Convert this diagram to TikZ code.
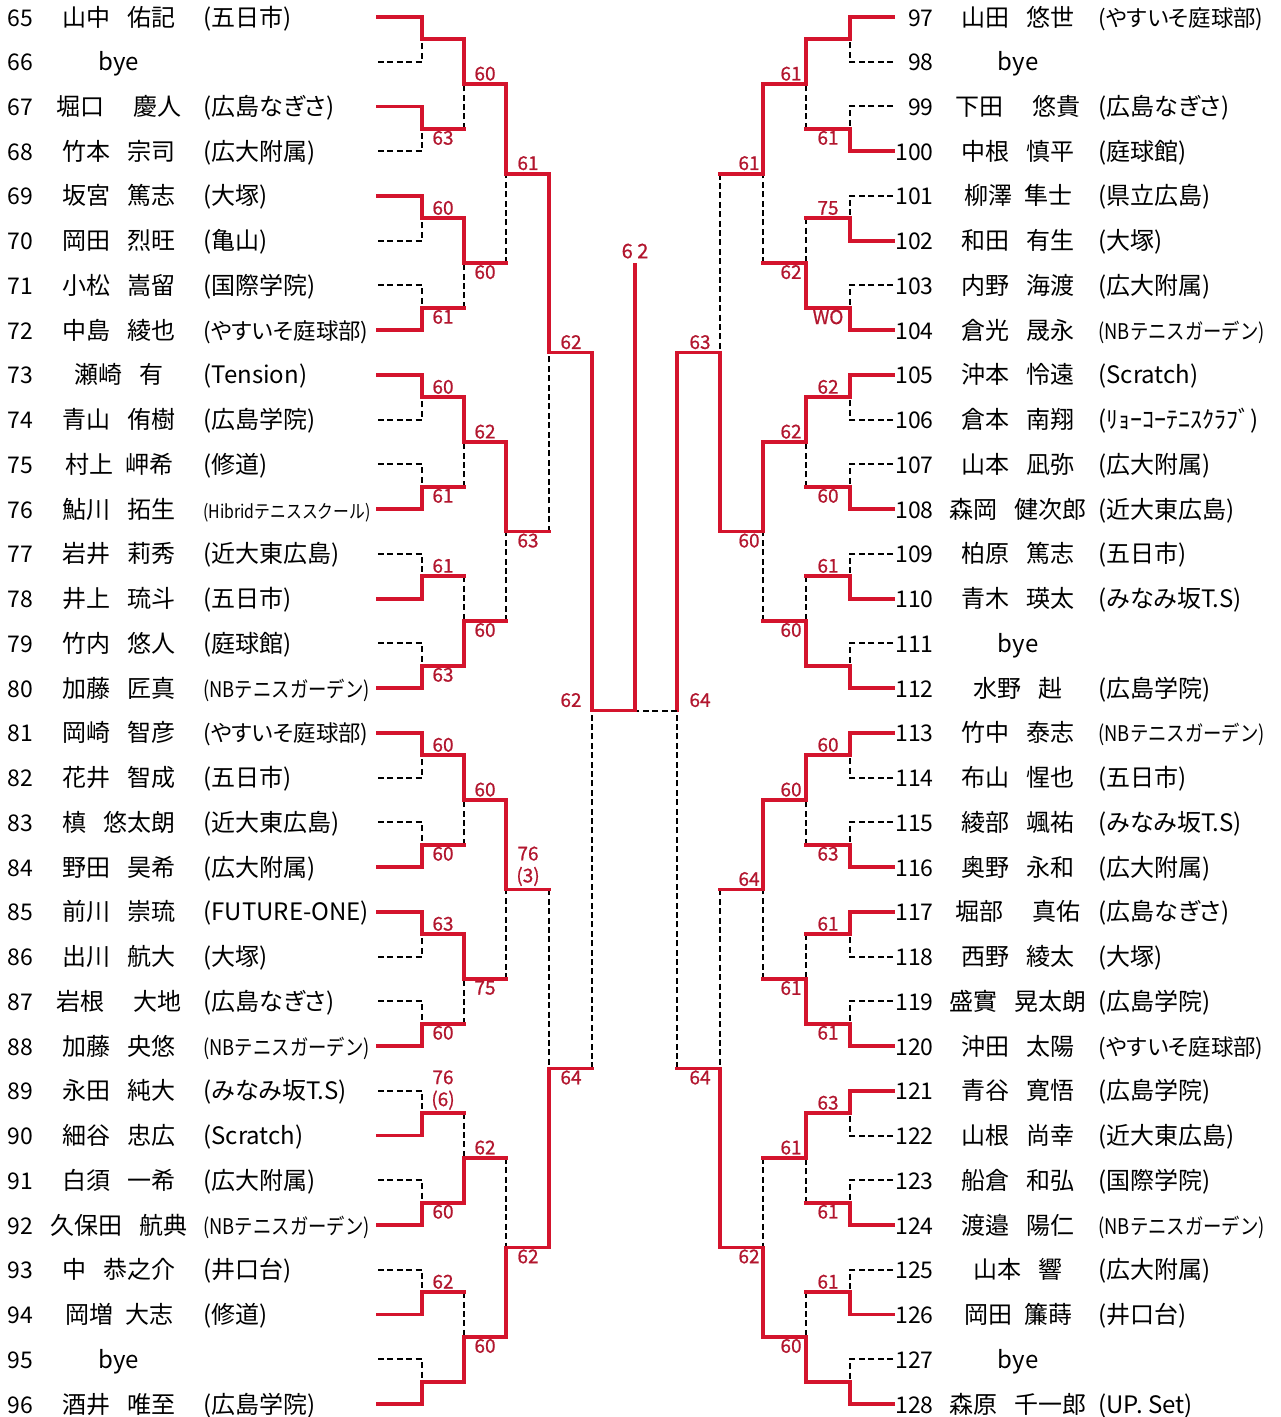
\documentclass[tikz,border=0pt]{standalone}
\usepackage{fontspec}
\setmainfont{Noto Sans CJK JP}
\newfontfamily\clubfont[RawFeature=+palt]{Noto Sans CJK JP}
\newfontfamily\narrowfont[FakeStretch=0.85]{Noto Sans CJK JP}
\newfontfamily\scorefont[FakeBold=0.8]{Noto Sans CJK JP}
\usepackage{tikz}

\definecolor{bracketred}{RGB}{212,20,45}
\definecolor{scorered}{RGB}{178,22,46}
\newcommand{\ngap}{\hspace{.7em}}
\newcommand{\firstbout}[3]{%
  \draw[lost] (#2) -| (#3);
  \draw[won] (#1) -| (#3);}
\newcommand{\bout}[3]{%
  \draw[lost] (#2 -| #3) -- (#3);
  \draw[won] (#2) -- (#2 -| #3);
  \draw[won] (#1) -| (#3);}

\begin{document}
\begin{tikzpicture}[x=0.5pt,y=-22.37pt,
  won/.style={draw=bracketred,line width=1.9pt,line cap=rect},
  lost/.style={draw=black,line width=1pt,dash pattern=on 3pt off 1.7pt},
  entryno/.style={anchor=base west,yshift=-4.5pt,inner sep=0pt,font=\fontsize{11.5}{13}\selectfont},
  entrynoR/.style={entryno,anchor=base east},
  player/.style={anchor=base,yshift=-4.5pt,inner sep=0pt,font=\fontsize{12}{14}\selectfont},
  club/.style={anchor=base west,yshift=-4.5pt,inner sep=0pt,font=\clubfont\fontsize{12}{14}\selectfont},
  kanaclub/.style={club,font=\clubfont\fontsize{11.2}{13}\selectfont},
  smallclub/.style={club,font=\narrowfont\fontsize{10.8}{13}\selectfont},
  tinyclub/.style={club,font=\narrowfont\fontsize{9.3}{11}\selectfont},
  scoreup/.style={anchor=south,inner sep=1.5pt,text=scorered,align=center,font=\scorefont\fontsize{9.5}{11}\selectfont},
  scoredown/.style={scoreup,anchor=north,inner sep=0.8pt}]
\useasboundingbox (0,-0.38) rectangle (1280,31.29);

% left half
\path (7,0)  node[entryno] (n65) {65} (119,0)  node[player] (p65) {山中\ngap{}佑記} (203,0)  node[club] (c65) {(五日市)} (378,0) coordinate (e65);
\path (7,1)  node[entryno] (n66) {66} (119,1)  node[player] (p66) {bye} (378,1) coordinate (e66);
\path (7,2)  node[entryno] (n67) {67} (119,2)  node[player] (p67) {堀口\ngap\enskip{}慶人} (203,2)  node[club] (c67) {(広島なぎさ)} (378,2) coordinate (e67);
\path (7,3)  node[entryno] (n68) {68} (119,3)  node[player] (p68) {竹本\ngap{}宗司} (203,3)  node[club] (c68) {(広大附属)} (378,3) coordinate (e68);
\path (7,4)  node[entryno] (n69) {69} (119,4)  node[player] (p69) {坂宮\ngap{}篤志} (203,4)  node[club] (c69) {(大塚)} (378,4) coordinate (e69);
\path (7,5)  node[entryno] (n70) {70} (119,5)  node[player] (p70) {岡田\ngap{}烈旺} (203,5)  node[club] (c70) {(亀山)} (378,5) coordinate (e70);
\path (7,6)  node[entryno] (n71) {71} (119,6)  node[player] (p71) {小松\ngap{}嵩留} (203,6)  node[club] (c71) {(国際学院)} (378,6) coordinate (e71);
\path (7,7)  node[entryno] (n72) {72} (119,7)  node[player] (p72) {中島\ngap{}綾也} (203,7)  node[kanaclub] (c72) {(やすいそ庭球部)} (378,7) coordinate (e72);
\path (7,8)  node[entryno] (n73) {73} (119,8)  node[player] (p73) {瀬崎\ngap{}有} (203,8)  node[club] (c73) {(Tension)} (378,8) coordinate (e73);
\path (7,9)  node[entryno] (n74) {74} (119,9)  node[player] (p74) {青山\ngap{}侑樹} (203,9)  node[club] (c74) {(広島学院)} (378,9) coordinate (e74);
\path (7,10) node[entryno] (n75) {75} (119,10) node[player] (p75) {村上\enskip{}岬希} (203,10) node[club] (c75) {(修道)} (378,10) coordinate (e75);
\path (7,11) node[entryno] (n76) {76} (119,11) node[player] (p76) {鮎川\ngap{}拓生} (203,11) node[tinyclub] (c76) {(Hibridテニススクール)} (378,11) coordinate (e76);
\path (7,12) node[entryno] (n77) {77} (119,12) node[player] (p77) {岩井\ngap{}莉秀} (203,12) node[club] (c77) {(近大東広島)} (378,12) coordinate (e77);
\path (7,13) node[entryno] (n78) {78} (119,13) node[player] (p78) {井上\ngap{}琉斗} (203,13) node[club] (c78) {(五日市)} (378,13) coordinate (e78);
\path (7,14) node[entryno] (n79) {79} (119,14) node[player] (p79) {竹内\ngap{}悠人} (203,14) node[club] (c79) {(庭球館)} (378,14) coordinate (e79);
\path (7,15) node[entryno] (n80) {80} (119,15) node[player] (p80) {加藤\ngap{}匠真} (203,15) node[smallclub] (c80) {(NBテニスガーデン)} (378,15) coordinate (e80);
\path (7,16) node[entryno] (n81) {81} (119,16) node[player] (p81) {岡崎\ngap{}智彦} (203,16) node[kanaclub] (c81) {(やすいそ庭球部)} (378,16) coordinate (e81);
\path (7,17) node[entryno] (n82) {82} (119,17) node[player] (p82) {花井\ngap{}智成} (203,17) node[club] (c82) {(五日市)} (378,17) coordinate (e82);
\path (7,18) node[entryno] (n83) {83} (119,18) node[player] (p83) {槙\ngap{}悠太朗} (203,18) node[club] (c83) {(近大東広島)} (378,18) coordinate (e83);
\path (7,19) node[entryno] (n84) {84} (119,19) node[player] (p84) {野田\ngap{}昊希} (203,19) node[club] (c84) {(広大附属)} (378,19) coordinate (e84);
\path (7,20) node[entryno] (n85) {85} (119,20) node[player] (p85) {前川\ngap{}崇琉} (203,20) node[club] (c85) {(FUTURE-ONE)} (378,20) coordinate (e85);
\path (7,21) node[entryno] (n86) {86} (119,21) node[player] (p86) {出川\ngap{}航大} (203,21) node[club] (c86) {(大塚)} (378,21) coordinate (e86);
\path (7,22) node[entryno] (n87) {87} (119,22) node[player] (p87) {岩根\ngap\enskip{}大地} (203,22) node[club] (c87) {(広島なぎさ)} (378,22) coordinate (e87);
\path (7,23) node[entryno] (n88) {88} (119,23) node[player] (p88) {加藤\ngap{}央悠} (203,23) node[smallclub] (c88) {(NBテニスガーデン)} (378,23) coordinate (e88);
\path (7,24) node[entryno] (n89) {89} (119,24) node[player] (p89) {永田\ngap{}純大} (203,24) node[club] (c89) {(みなみ坂T.S)} (378,24) coordinate (e89);
\path (7,25) node[entryno] (n90) {90} (119,25) node[player] (p90) {細谷\ngap{}忠広} (203,25) node[club] (c90) {(Scratch)} (378,25) coordinate (e90);
\path (7,26) node[entryno] (n91) {91} (119,26) node[player] (p91) {白須\ngap{}一希} (203,26) node[club] (c91) {(広大附属)} (378,26) coordinate (e91);
\path (7,27) node[entryno] (n92) {92} (119,27) node[player] (p92) {久保田\ngap{}航典} (203,27) node[smallclub] (c92) {(NBテニスガーデン)} (378,27) coordinate (e92);
\path (7,28) node[entryno] (n93) {93} (119,28) node[player] (p93) {中\ngap{}恭之介} (203,28) node[club] (c93) {(井口台)} (378,28) coordinate (e93);
\path (7,29) node[entryno] (n94) {94} (119,29) node[player] (p94) {岡増\enskip{}大志} (203,29) node[club] (c94) {(修道)} (378,29) coordinate (e94);
\path (7,30) node[entryno] (n95) {95} (119,30) node[player] (p95) {bye} (378,30) coordinate (e95);
\path (7,31) node[entryno] (n96) {96} (119,31) node[player] (p96) {酒井\ngap{}唯至} (203,31) node[club] (c96) {(広島学院)} (378,31) coordinate (e96);

% right half
\path (934,0)  node[entrynoR] (n97)  {97}  (1018,0)  node[player] (p97)  {山田\ngap{}悠世} (1098,0)  node[kanaclub] (c97)  {(やすいそ庭球部)} (893,0) coordinate (e97);
\path (934,1)  node[entrynoR] (n98)  {98}  (1018,1)  node[player] (p98)  {bye} (893,1) coordinate (e98);
\path (934,2)  node[entrynoR] (n99)  {99}  (1018,2)  node[player] (p99)  {下田\ngap\enskip{}悠貴} (1098,2)  node[club] (c99)  {(広島なぎさ)} (893,2) coordinate (e99);
\path (934,3)  node[entrynoR] (n100) {100} (1018,3)  node[player] (p100) {中根\ngap{}慎平} (1098,3)  node[club] (c100) {(庭球館)} (893,3) coordinate (e100);
\path (934,4)  node[entrynoR] (n101) {101} (1018,4)  node[player] (p101) {柳澤\enskip{}隼士} (1098,4)  node[club] (c101) {(県立広島)} (893,4) coordinate (e101);
\path (934,5)  node[entrynoR] (n102) {102} (1018,5)  node[player] (p102) {和田\ngap{}有生} (1098,5)  node[club] (c102) {(大塚)} (893,5) coordinate (e102);
\path (934,6)  node[entrynoR] (n103) {103} (1018,6)  node[player] (p103) {内野\ngap{}海渡} (1098,6)  node[club] (c103) {(広大附属)} (893,6) coordinate (e103);
\path (934,7)  node[entrynoR] (n104) {104} (1018,7)  node[player] (p104) {倉光\ngap{}晟永} (1098,7)  node[smallclub] (c104) {(NBテニスガーデン)} (893,7) coordinate (e104);
\path (934,8)  node[entrynoR] (n105) {105} (1018,8)  node[player] (p105) {沖本\ngap{}怜遠} (1098,8)  node[club] (c105) {(Scratch)} (893,8) coordinate (e105);
\path (934,9)  node[entrynoR] (n106) {106} (1018,9)  node[player] (p106) {倉本\ngap{}南翔} (1098,9)  node[club] (c106) {(ﾘｮｰｺｰﾃﾆｽｸﾗﾌﾞ)} (893,9) coordinate (e106);
\path (934,10) node[entrynoR] (n107) {107} (1018,10) node[player] (p107) {山本\ngap{}凪弥} (1098,10) node[club] (c107) {(広大附属)} (893,10) coordinate (e107);
\path (934,11) node[entrynoR] (n108) {108} (1018,11) node[player] (p108) {森岡\ngap{}健次郎} (1098,11) node[club] (c108) {(近大東広島)} (893,11) coordinate (e108);
\path (934,12) node[entrynoR] (n109) {109} (1018,12) node[player] (p109) {柏原\ngap{}篤志} (1098,12) node[club] (c109) {(五日市)} (893,12) coordinate (e109);
\path (934,13) node[entrynoR] (n110) {110} (1018,13) node[player] (p110) {青木\ngap{}瑛太} (1098,13) node[club] (c110) {(みなみ坂T.S)} (893,13) coordinate (e110);
\path (934,14) node[entrynoR] (n111) {111} (1018,14) node[player] (p111) {bye} (893,14) coordinate (e111);
\path (934,15) node[entrynoR] (n112) {112} (1018,15) node[player] (p112) {水野\ngap{}赳} (1098,15) node[club] (c112) {(広島学院)} (893,15) coordinate (e112);
\path (934,16) node[entrynoR] (n113) {113} (1018,16) node[player] (p113) {竹中\ngap{}泰志} (1098,16) node[smallclub] (c113) {(NBテニスガーデン)} (893,16) coordinate (e113);
\path (934,17) node[entrynoR] (n114) {114} (1018,17) node[player] (p114) {布山\ngap{}惺也} (1098,17) node[club] (c114) {(五日市)} (893,17) coordinate (e114);
\path (934,18) node[entrynoR] (n115) {115} (1018,18) node[player] (p115) {綾部\ngap{}颯祐} (1098,18) node[club] (c115) {(みなみ坂T.S)} (893,18) coordinate (e115);
\path (934,19) node[entrynoR] (n116) {116} (1018,19) node[player] (p116) {奥野\ngap{}永和} (1098,19) node[club] (c116) {(広大附属)} (893,19) coordinate (e116);
\path (934,20) node[entrynoR] (n117) {117} (1018,20) node[player] (p117) {堀部\ngap\enskip{}真佑} (1098,20) node[club] (c117) {(広島なぎさ)} (893,20) coordinate (e117);
\path (934,21) node[entrynoR] (n118) {118} (1018,21) node[player] (p118) {西野\ngap{}綾太} (1098,21) node[club] (c118) {(大塚)} (893,21) coordinate (e118);
\path (934,22) node[entrynoR] (n119) {119} (1018,22) node[player] (p119) {盛實\ngap{}晃太朗} (1098,22) node[club] (c119) {(広島学院)} (893,22) coordinate (e119);
\path (934,23) node[entrynoR] (n120) {120} (1018,23) node[player] (p120) {沖田\ngap{}太陽} (1098,23) node[kanaclub] (c120) {(やすいそ庭球部)} (893,23) coordinate (e120);
\path (934,24) node[entrynoR] (n121) {121} (1018,24) node[player] (p121) {青谷\ngap{}寛悟} (1098,24) node[club] (c121) {(広島学院)} (893,24) coordinate (e121);
\path (934,25) node[entrynoR] (n122) {122} (1018,25) node[player] (p122) {山根\ngap{}尚幸} (1098,25) node[club] (c122) {(近大東広島)} (893,25) coordinate (e122);
\path (934,26) node[entrynoR] (n123) {123} (1018,26) node[player] (p123) {船倉\ngap{}和弘} (1098,26) node[club] (c123) {(国際学院)} (893,26) coordinate (e123);
\path (934,27) node[entrynoR] (n124) {124} (1018,27) node[player] (p124) {渡邉\ngap{}陽仁} (1098,27) node[smallclub] (c124) {(NBテニスガーデン)} (893,27) coordinate (e124);
\path (934,28) node[entrynoR] (n125) {125} (1018,28) node[player] (p125) {山本\ngap{}響} (1098,28) node[club] (c125) {(広大附属)} (893,28) coordinate (e125);
\path (934,29) node[entrynoR] (n126) {126} (1018,29) node[player] (p126) {岡田\enskip{}簾蒔} (1098,29) node[club] (c126) {(井口台)} (893,29) coordinate (e126);
\path (934,30) node[entrynoR] (n127) {127} (1018,30) node[player] (p127) {bye} (893,30) coordinate (e127);
\path (934,31) node[entrynoR] (n128) {128} (1018,31) node[player] (p128) {森原\ngap{}千一郎} (1098,31) node[club] (c128) {(UP. Set)} (893,31) coordinate (e128);

% junctions, left
\coordinate (la1)  at (422,0.5);
\coordinate (la2)  at (422,2.5);
\coordinate (la3)  at (422,4.5);
\coordinate (la4)  at (422,6.5);
\coordinate (la5)  at (422,8.5);
\coordinate (la6)  at (422,10.5);
\coordinate (la7)  at (422,12.5);
\coordinate (la8)  at (422,14.5);
\coordinate (la9)  at (422,16.5);
\coordinate (la10) at (422,18.5);
\coordinate (la11) at (422,20.5);
\coordinate (la12) at (422,22.5);
\coordinate (la13) at (422,24.5);
\coordinate (la14) at (422,26.5);
\coordinate (la15) at (422,28.5);
\coordinate (la16) at (422,30.5);
\coordinate (lb1) at (464,1.5);
\coordinate (lb2) at (464,5.5);
\coordinate (lb3) at (464,9.5);
\coordinate (lb4) at (464,13.5);
\coordinate (lb5) at (464,17.5);
\coordinate (lb6) at (464,21.5);
\coordinate (lb7) at (464,25.5);
\coordinate (lb8) at (464,29.5);
\coordinate (lc1) at (506,3.5);
\coordinate (lc2) at (506,11.5);
\coordinate (lc3) at (506,19.5);
\coordinate (lc4) at (506,27.5);
\coordinate (ld1) at (549,7.5);
\coordinate (ld2) at (549,23.5);
\coordinate (le)  at (592,15.5);

% junctions, right
\coordinate (ra1)  at (850,0.5);
\coordinate (ra2)  at (850,2.5);
\coordinate (ra3)  at (850,4.5);
\coordinate (ra4)  at (850,6.5);
\coordinate (ra5)  at (850,8.5);
\coordinate (ra6)  at (850,10.5);
\coordinate (ra7)  at (850,12.5);
\coordinate (ra8)  at (850,14.5);
\coordinate (ra9)  at (850,16.5);
\coordinate (ra10) at (850,18.5);
\coordinate (ra11) at (850,20.5);
\coordinate (ra12) at (850,22.5);
\coordinate (ra13) at (850,24.5);
\coordinate (ra14) at (850,26.5);
\coordinate (ra15) at (850,28.5);
\coordinate (ra16) at (850,30.5);
\coordinate (rb1) at (806,1.5);
\coordinate (rb2) at (806,5.5);
\coordinate (rb3) at (806,9.5);
\coordinate (rb4) at (806,13.5);
\coordinate (rb5) at (806,17.5);
\coordinate (rb6) at (806,21.5);
\coordinate (rb7) at (806,25.5);
\coordinate (rb8) at (806,29.5);
\coordinate (rc1) at (763,3.5);
\coordinate (rc2) at (763,11.5);
\coordinate (rc3) at (763,19.5);
\coordinate (rc4) at (763,27.5);
\coordinate (rd1) at (720,7.5);
\coordinate (rd2) at (720,23.5);
\coordinate (re)  at (677,15.5);

\coordinate (fin)   at (635,15.5);
\coordinate (champ) at (635,5.54);

% left bracket
\firstbout{e65}{e66}{la1}
\firstbout{e67}{e68}{la2}
\firstbout{e69}{e70}{la3}
\firstbout{e72}{e71}{la4}
\firstbout{e73}{e74}{la5}
\firstbout{e76}{e75}{la6}
\firstbout{e78}{e77}{la7}
\firstbout{e80}{e79}{la8}
\firstbout{e81}{e82}{la9}
\firstbout{e84}{e83}{la10}
\firstbout{e85}{e86}{la11}
\firstbout{e88}{e87}{la12}
\firstbout{e90}{e89}{la13}
\firstbout{e92}{e91}{la14}
\firstbout{e94}{e93}{la15}
\firstbout{e96}{e95}{la16}
\bout{la1}{la2}{lb1}
\bout{la3}{la4}{lb2}
\bout{la5}{la6}{lb3}
\bout{la8}{la7}{lb4}
\bout{la9}{la10}{lb5}
\bout{la11}{la12}{lb6}
\bout{la14}{la13}{lb7}
\bout{la16}{la15}{lb8}
\bout{lb1}{lb2}{lc1}
\bout{lb3}{lb4}{lc2}
\bout{lb5}{lb6}{lc3}
\bout{lb8}{lb7}{lc4}
\bout{lc1}{lc2}{ld1}
\bout{lc4}{lc3}{ld2}
\bout{ld1}{ld2}{le}

% right bracket
\firstbout{e97}{e98}{ra1}
\firstbout{e100}{e99}{ra2}
\firstbout{e102}{e101}{ra3}
\firstbout{e104}{e103}{ra4}
\firstbout{e105}{e106}{ra5}
\firstbout{e108}{e107}{ra6}
\firstbout{e110}{e109}{ra7}
\firstbout{e112}{e111}{ra8}
\firstbout{e113}{e114}{ra9}
\firstbout{e116}{e115}{ra10}
\firstbout{e117}{e118}{ra11}
\firstbout{e120}{e119}{ra12}
\firstbout{e121}{e122}{ra13}
\firstbout{e124}{e123}{ra14}
\firstbout{e126}{e125}{ra15}
\firstbout{e128}{e127}{ra16}
\bout{ra1}{ra2}{rb1}
\bout{ra4}{ra3}{rb2}
\bout{ra5}{ra6}{rb3}
\bout{ra8}{ra7}{rb4}
\bout{ra9}{ra10}{rb5}
\bout{ra12}{ra11}{rb6}
\bout{ra13}{ra14}{rb7}
\bout{ra16}{ra15}{rb8}
\bout{rb1}{rb2}{rc1}
\bout{rb3}{rb4}{rc2}
\bout{rb5}{rb6}{rc3}
\bout{rb8}{rb7}{rc4}
\bout{rc2}{rc1}{rd1}
\bout{rc4}{rc3}{rd2}
\bout{rd1}{rd2}{re}

% final
\draw[lost] (re) -- (fin);
\draw[won] (le) -| (champ);
\node[scoreup,inner sep=3pt,font=\scorefont\fontsize{10}{11}\selectfont] (sfin) at (champ) {6 2};

% scores, left
\node[scoredown] (sla2)  at (443,2.5)  {63};
\node[scoreup]   (sla3)  at (443,4.5)  {60};
\node[scoredown] (sla4)  at (443,6.5)  {61};
\node[scoreup]   (sla5)  at (443,8.5)  {60};
\node[scoredown] (sla6)  at (443,10.5) {61};
\node[scoreup]   (sla7)  at (443,12.5) {61};
\node[scoredown] (sla8)  at (443,14.5) {63};
\node[scoreup]   (sla9)  at (443,16.5) {60};
\node[scoredown] (sla10) at (443,18.5) {60};
\node[scoreup]   (sla11) at (443,20.5) {63};
\node[scoredown] (sla12) at (443,22.5) {60};
\node[scoreup]   (sla13) at (443,24.5) {76\\(6)};
\node[scoredown] (sla14) at (443,26.5) {60};
\node[scoreup]   (sla15) at (443,28.5) {62};
\node[scoreup]   (slb1) at (485,1.5)  {60};
\node[scoredown] (slb2) at (485,5.5)  {60};
\node[scoreup]   (slb3) at (485,9.5)  {62};
\node[scoredown] (slb4) at (485,13.5) {60};
\node[scoreup]   (slb5) at (485,17.5) {60};
\node[scoredown] (slb6) at (485,21.5) {75};
\node[scoreup]   (slb7) at (485,25.5) {62};
\node[scoredown] (slb8) at (485,29.5) {60};
\node[scoreup]   (slc1) at (528,3.5)  {61};
\node[scoredown] (slc2) at (528,11.5) {63};
\node[scoreup]   (slc3) at (528,19.5) {76\\(3)};
\node[scoredown] (slc4) at (528,27.5) {62};
\node[scoreup]   (sld1) at (571,7.5)  {62};
\node[scoredown] (sld2) at (571,23.5) {64};
\node[scoreup]   (sle)  at (571,15.5) {62};

% scores, right
\node[scoredown] (sra2)  at (828,2.5)  {61};
\node[scoreup]   (sra3)  at (828,4.5)  {75};
\node[scoredown] (sra4)  at (828,6.5)  {WO};
\node[scoreup]   (sra5)  at (828,8.5)  {62};
\node[scoredown] (sra6)  at (828,10.5) {60};
\node[scoreup]   (sra7)  at (828,12.5) {61};
\node[scoreup]   (sra9)  at (828,16.5) {60};
\node[scoredown] (sra10) at (828,18.5) {63};
\node[scoreup]   (sra11) at (828,20.5) {61};
\node[scoredown] (sra12) at (828,22.5) {61};
\node[scoreup]   (sra13) at (828,24.5) {63};
\node[scoredown] (sra14) at (828,26.5) {61};
\node[scoreup]   (sra15) at (828,28.5) {61};
\node[scoreup]   (srb1) at (791,1.5)  {61};
\node[scoredown] (srb2) at (791,5.5)  {62};
\node[scoreup]   (srb3) at (791,9.5)  {62};
\node[scoredown] (srb4) at (791,13.5) {60};
\node[scoreup]   (srb5) at (791,17.5) {60};
\node[scoredown] (srb6) at (791,21.5) {61};
\node[scoreup]   (srb7) at (791,25.5) {61};
\node[scoredown] (srb8) at (791,29.5) {60};
\node[scoreup]   (src1) at (749,3.5)  {61};
\node[scoredown] (src2) at (749,11.5) {60};
\node[scoreup]   (src3) at (749,19.5) {64};
\node[scoredown] (src4) at (749,27.5) {62};
\node[scoreup]   (srd1) at (700,7.5)  {63};
\node[scoredown] (srd2) at (700,23.5) {64};
\node[scoreup]   (sre)  at (700,15.5) {64};
\end{tikzpicture}
\end{document}
